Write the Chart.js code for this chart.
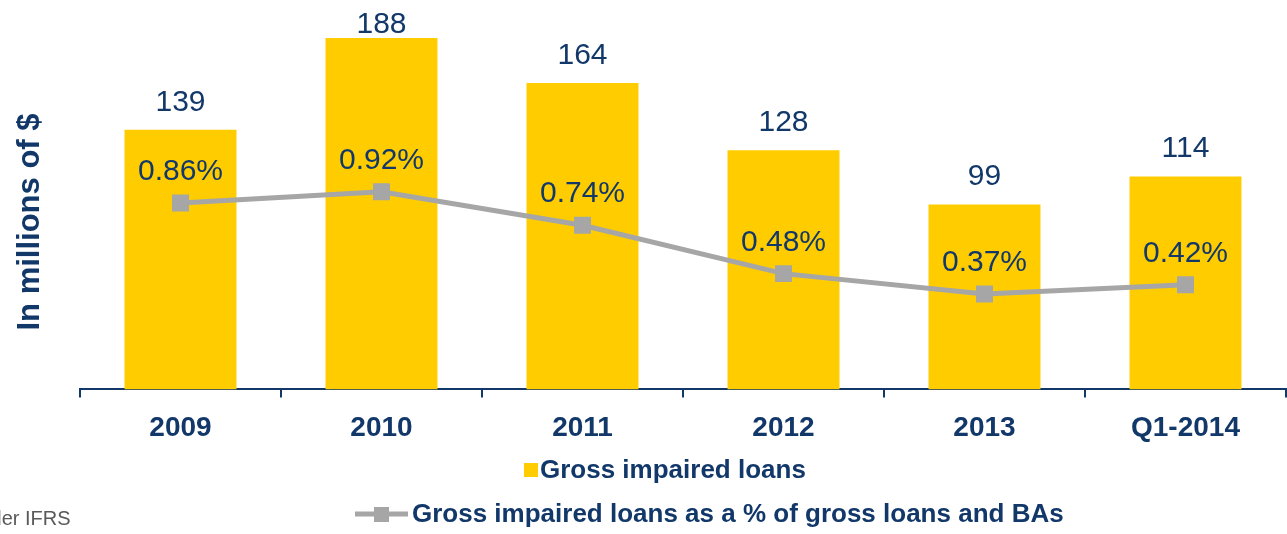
<!DOCTYPE html>
<html>
<head>
<meta charset="utf-8">
<script src="https://cdn.jsdelivr.net/npm/chart.js@4/dist/chart.umd.min.js"></script>
<style>
  html, body { margin: 0; padding: 0; background: #fff; }
  #wrap { width: 1287px; height: 534px; }
</style>
</head>
<body>
<div id="wrap"><canvas id="chart"></canvas></div>
<script>
const years = ["2009", "2010", "2011", "2012", "2013", "Q1-2014"];
const grossImpaired = [139, 188, 164, 128, 99, 114];
const impairedPct = [0.86, 0.92, 0.74, 0.48, 0.37, 0.42];

const NAVY = "#12386a";
const GOLD = "#ffcc00";
const GREY = "#a6a6a6";
const FONT = "'Liberation Sans', Arial, sans-serif";

// value labels over the bars and the line points
const valueLabels = {
  id: "valueLabels",
  afterDatasetsDraw(chart) {
    const ctx = chart.ctx;
    ctx.save();
    ctx.fillStyle = NAVY;
    ctx.textAlign = "center";
    ctx.textBaseline = "alphabetic";
    ctx.font = "30px " + FONT;

    chart.getDatasetMeta(1).data.forEach((bar, i) => {
      // keep the tallest label inside the canvas
      const y = Math.max(bar.y - 19, 33);
      ctx.fillText(String(grossImpaired[i]), bar.x, y);
    });
    chart.getDatasetMeta(0).data.forEach((pt, i) => {
      ctx.fillText(impairedPct[i].toFixed(2) + "%", pt.x, pt.y - 23);
    });
    ctx.restore();
  },
};

// axis title, two-row legend and the footnote
const extras = {
  id: "extras",
  afterDraw(chart) {
    const ctx = chart.ctx;
    const ds = chart.data.datasets;
    ctx.save();

    ctx.fillStyle = NAVY;
    ctx.font = "bold 31px " + FONT;
    ctx.textAlign = "center";
    ctx.textBaseline = "alphabetic";
    ctx.translate(39, 222);
    ctx.rotate(-Math.PI / 2);
    ctx.fillText("In millions of $", 0, 0);
    ctx.setTransform(1, 0, 0, 1, 0, 0);

    ctx.font = "bold 26px " + FONT;
    ctx.textAlign = "left";
    ctx.textBaseline = "middle";

    // row 1: bar series
    ctx.fillStyle = ds[1].backgroundColor;
    ctx.fillRect(524, 463, 14, 14);
    ctx.fillStyle = NAVY;
    ctx.fillText(ds[1].label, 540, 471);

    // row 2: line series
    ctx.strokeStyle = ds[0].borderColor;
    ctx.lineWidth = 5;
    ctx.beginPath();
    ctx.moveTo(355, 514);
    ctx.lineTo(408, 514);
    ctx.stroke();
    ctx.fillStyle = ds[0].borderColor;
    ctx.fillRect(374, 507, 15, 15);
    ctx.fillStyle = NAVY;
    ctx.fillText(ds[0].label, 412, 515);

    ctx.fillStyle = "#595959";
    ctx.font = "20px " + FONT;
    ctx.textBaseline = "alphabetic";
    ctx.fillText("Under IFRS", -35, 525);

    ctx.restore();
  },
};

new Chart(document.getElementById("chart"), {
  data: {
    labels: years,
    datasets: [
      {
        type: "line",
        label: "Gross impaired loans as a % of gross loans and BAs",
        data: impairedPct,
        yAxisID: "y2",
        borderColor: GREY,
        backgroundColor: GREY,
        borderWidth: 5,
        pointStyle: "rect",
        pointRadius: 12,
        pointBorderWidth: 0,
        pointBackgroundColor: GREY,
        tension: 0,
        order: 0,
      },
      {
        type: "bar",
        label: "Gross impaired loans",
        data: grossImpaired,
        yAxisID: "y",
        backgroundColor: GOLD,
        categoryPercentage: 1,
        barPercentage: 0.557,
        order: 1,
      },
    ],
  },
  options: {
    responsive: true,
    maintainAspectRatio: false,
    animation: false,
    layout: {
      autoPadding: false,
      padding: { left: 80, right: 1, top: 0, bottom: 75 },
    },
    plugins: {
      legend: { display: false },
      tooltip: { enabled: false },
    },
    scales: {
      x: {
        offset: true,
        grid: {
          offset: true,
          drawOnChartArea: false,
          tickLength: 8,
          color: NAVY,
          lineWidth: 2,
        },
        border: { color: NAVY, width: 2 },
        ticks: {
          padding: 14,
          color: NAVY,
          font: { family: FONT, size: 28, weight: "bold" },
        },
      },
      y: { display: false, min: 0, max: 208.4 },
      y2: { display: false, min: -0.142, max: 1.95 },
    },
  },
  plugins: [valueLabels, extras],
});
</script>
</body>
</html>
